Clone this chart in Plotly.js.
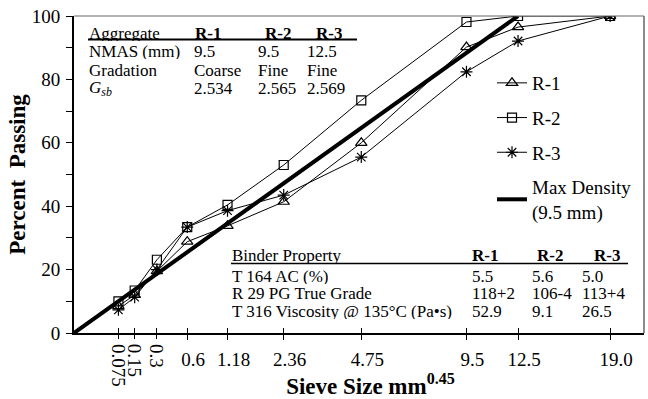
<!DOCTYPE html>
<html>
<head>
<meta charset="utf-8">
<script src="https://cdn.plot.ly/plotly-3.0.1.min.js"></script>
<style>html,body{margin:0;padding:0;background:#fff;}#chart{width:648px;height:399px;}</style>
</head>
<body>
<div id="chart"></div>
<script>
// ---- data ----
const sieveSizes = [0.075, 0.15, 0.3, 0.6, 1.18, 2.36, 4.75, 9.5, 12.5, 19.0];
const sieveTickLabels = ['0.075', '0.15', '0.3', '0.6', '1.18', '2.36', '4.75', '9.5', '12.5', '19.0'];
const rotatedTickLabels = ['0.075', '0.15', '0.3'];
const r1Passing = [8.5, 12.0, 19.5, 28.8, 33.8, 41.4, 60.0, 90.2, 96.5, 100];
const r2Passing = [10.0, 13.4, 23.1, 33.4, 40.4, 53.0, 73.4, 98.1, 100, 100];
const r3Passing = [7.3, 11.3, 20.0, 33.4, 38.6, 43.5, 55.5, 82.4, 92.1, 100];
const maxDensitySieves = [0, 12.5];
const maxDensityPassing = [0, 100];
const seriesNames = ['R-1', 'R-2', 'R-3', 'Max Density<br>(9.5 mm)'];
const yTickVals = [0, 20, 40, 60, 80, 100];

const aggHeader = ['Aggregate', 'R-1', 'R-2', 'R-3'];
const aggRowLabels = ['NMAS (mm)', 'Gradation', '<i>G<sub>sb</sub></i>'];
const aggR1 = ['9.5', 'Coarse', '2.534'];
const aggR2 = ['9.5', 'Fine', '2.565'];
const aggR3 = ['12.5', 'Fine', '2.569'];

const binderHeader = ['Binder Property', 'R-1', 'R-2', 'R-3'];
const binderRowLabels = ['T 164 AC (%)', 'R 29 PG True Grade', 'T 316 Viscosity @ 135°C (Pa•s)'];
const binderR1 = ['5.5', '118+2', '52.9'];
const binderR2 = ['5.6', '106-4', '9.1'];
const binderR3 = ['5.0', '113+4', '26.5'];

// ---- helpers ----
const EXP = 0.45;
const xs = a => a.map(s => Math.pow(s, EXP));
const L = 74, T = 16, W = 570, H = 317;
const px = x => (x - L) / W;
const py = y => (T + H - y) / H;
const FONT = 'Liberation Serif, Times New Roman, serif';

const traces = [
  {x: xs(sieveSizes), y: r1Passing, name: seriesNames[0], legendgroup: 'g1', mode: 'lines+markers',
   line: {color: '#000', width: 1}, marker: {symbol: 'triangle-up-open', size: 10, color: '#000', line: {width: 1.2}}},
  {x: xs(sieveSizes), y: r2Passing, name: seriesNames[1], legendgroup: 'g2', mode: 'lines+markers',
   line: {color: '#000', width: 1}, marker: {symbol: 'square-open', size: 9, color: '#000', line: {width: 1.2}}},
  {x: xs(sieveSizes), y: r3Passing, name: seriesNames[2], legendgroup: 'g3', mode: 'lines+markers',
   line: {color: '#000', width: 1}, marker: {symbol: 'asterisk-open', size: 10, color: '#000', line: {width: 1.2}}},
  {x: xs(maxDensitySieves), y: maxDensityPassing, name: seriesNames[3], legendgroup: 'g4', mode: 'lines',
   line: {color: '#000', width: 4}}
];
// invisible traces carrying the extra tick sets (crossing ticks)
traces.push({x: [0], y: [0], xaxis: 'x2', yaxis: 'y', mode: 'markers', marker: {opacity: 0}, showlegend: false, hoverinfo: 'skip'});
traces.push({x: [0], y: [0], xaxis: 'x3', yaxis: 'y', mode: 'markers', marker: {opacity: 0}, showlegend: false, hoverinfo: 'skip'});

const annotations = [];
// rotated small-sieve tick labels
rotatedTickLabels.forEach((t, i) => {
  annotations.push({x: Math.pow(sieveSizes[i], EXP), xref: 'x', y: py(342), yref: 'paper',
    text: t, textangle: 90, showarrow: false, xanchor: 'center', yanchor: 'top',
    font: {family: FONT, size: 19, color: '#000'}});
});
const ann = (x, y, text, size, opts) => annotations.push(Object.assign({
  x: px(x), y: py(y), xref: 'paper', yref: 'paper', text: text, showarrow: false, height: 15,
  xanchor: 'left', yanchor: 'middle', font: {family: FONT, size: size || 17, color: '#000'}}, opts || {}));

// aggregate table
const aggColX = [87, 192, 256, 305];
const aggHeadX = [87, 193, 263, 314];
const aggRowY = [51.7, 70.7, 88.5];
ann(aggHeadX[0], 33, aggHeader[0]);
for (let c = 1; c < 4; c++) ann(aggHeadX[c], 33, '<b>' + aggHeader[c] + '</b>');
aggRowLabels.forEach((t, r) => {
  ann(aggColX[0], aggRowY[r], t);
  ann(aggColX[1], aggRowY[r], aggR1[r]);
  ann(aggColX[2], aggRowY[r], aggR2[r]);
  ann(aggColX[3], aggRowY[r], aggR3[r]);
});
// binder table
const binColX = [230, 470, 530, 580];
const binHeadX = [230, 470, 535, 592];
const binRowY = [276, 293.5, 311.5];
ann(binHeadX[0], 255, binderHeader[0]);
for (let c = 1; c < 4; c++) ann(binHeadX[c], 255, '<b>' + binderHeader[c] + '</b>');
binderRowLabels.forEach((t, r) => {
  ann(binColX[0], binRowY[r], t);
  ann(binColX[1], binRowY[r], binderR1[r]);
  ann(binColX[2], binRowY[r], binderR2[r]);
  ann(binColX[3], binRowY[r], binderR3[r]);
});

const shapes = [
  {type: 'line', xref: 'paper', yref: 'paper', x0: 0, x1: 1, y0: 1, y1: 1, line: {color: '#666', width: 1}},
  {type: 'line', xref: 'paper', yref: 'paper', x0: 1, x1: 1, y0: 0, y1: 1, line: {color: '#666', width: 1.5}},
  {type: 'line', xref: 'paper', yref: 'paper', x0: px(88), x1: px(357), y0: py(39.5), y1: py(39.5), line: {color: '#000', width: 2}},
  {type: 'line', xref: 'paper', yref: 'paper', x0: px(231), x1: px(628), y0: py(263.5), y1: py(263.5), line: {color: '#000', width: 1.5}}
];

const labeledSieves = sieveSizes.filter((s, i) => !rotatedTickLabels.includes(sieveTickLabels[i]));
const labeledText = sieveTickLabels.filter(t => !rotatedTickLabels.includes(t));
const smallSieves = sieveSizes.filter((s, i) => rotatedTickLabels.includes(sieveTickLabels[i]));

const layout = {
  width: 648, height: 399,
  margin: {l: L, r: 648 - L - W, t: T, b: 399 - T - H},
  paper_bgcolor: '#fff', plot_bgcolor: '#fff',
  font: {family: FONT, color: '#000'},
  showlegend: true,
  legend: {x: px(492), y: py(64), xanchor: 'left', yanchor: 'top', bgcolor: 'rgba(0,0,0,0)',
    traceorder: 'grouped', tracegroupgap: 7,
    font: {family: FONT, size: 19, color: '#000'}},
  xaxis: {range: [0, 4.0], tickvals: xs(labeledSieves), ticktext: labeledText, ticks: 'outside', ticklen: 5,
    tickcolor: '#000', tickwidth: 1, showgrid: false, zeroline: false, showline: true, linecolor: '#000', linewidth: 1.5,
    tickfont: {family: FONT, size: 19, color: '#000'}, ticklabelshift: 6, ticklabelstandoff: 4,
    title: {text: '<b>&nbsp;&nbsp;&nbsp;&nbsp;Sieve Size mm<sup>0.45</sup></b>', font: {family: FONT, size: 23, color: '#000'}, standoff: 4}},
  xaxis2: {range: [0, 4.0], overlaying: 'x', side: 'bottom', tickvals: xs(sieveSizes), ticks: 'inside', ticklen: 5,
    tickcolor: '#000', tickwidth: 1, showticklabels: false, showgrid: false, zeroline: false, showline: false},
  xaxis3: {range: [0, 4.0], overlaying: 'x', side: 'bottom', tickvals: xs(smallSieves), ticks: 'outside', ticklen: 5,
    tickcolor: '#000', tickwidth: 1, showticklabels: false, showgrid: false, zeroline: false, showline: false},
  yaxis: {range: [0, 100], tickvals: yTickVals, ticks: 'outside', ticklen: 6, tickcolor: '#000', tickwidth: 1,
    minor: {dtick: 10, ticks: 'outside', ticklen: 6, tickcolor: '#000', tickwidth: 1, showgrid: false},
    showgrid: false, zeroline: false, showline: true, linecolor: '#000', linewidth: 2,
    tickfont: {family: FONT, size: 19, color: '#000'}, ticklabelstandoff: 2,
    title: {text: '<b>Percent  Passing</b>', font: {family: FONT, size: 23, color: '#000'}, standoff: 0}},
  annotations: annotations,
  shapes: shapes
};

Plotly.newPlot('chart', traces, layout, {staticPlot: true, displayModeBar: false});
</script>
</body>
</html>
